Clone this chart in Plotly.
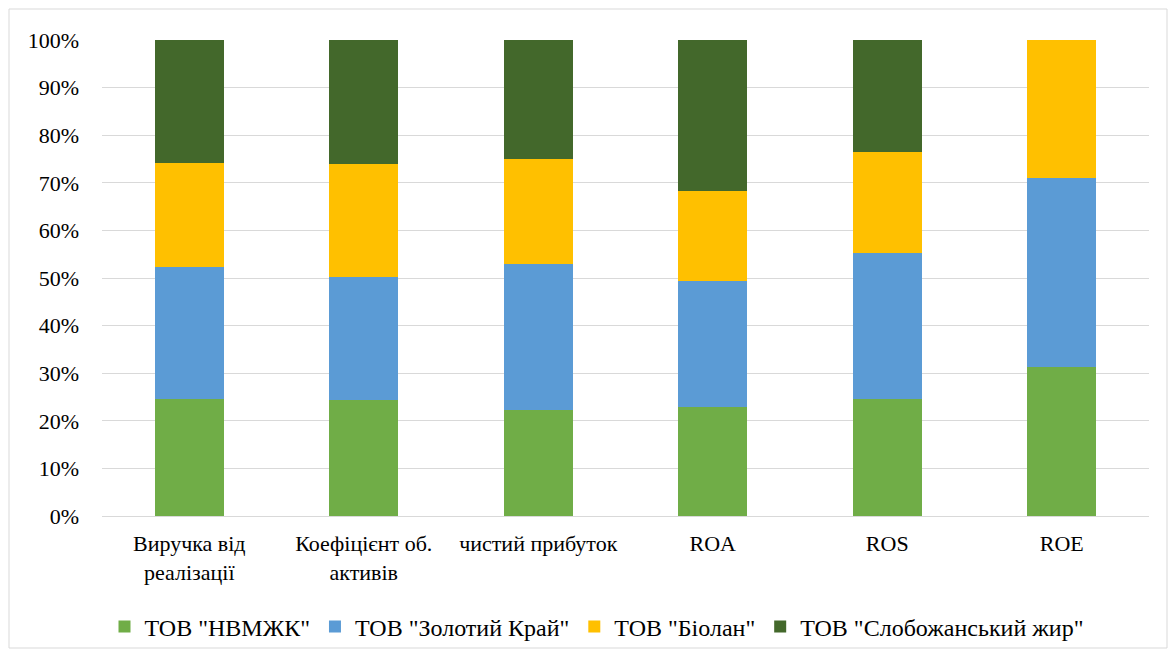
import plotly.graph_objects as go

categories = ["Виручка від<br>реалізації", "Коефіцієнт об.<br>активів", "чистий прибуток", "ROA", "ROS", "ROE"]
nvmzhk = [24.6, 24.3, 22.3, 22.8, 24.6, 31.2]
zolotyi_krai = [27.8, 25.9, 30.7, 26.6, 30.6, 39.9]
biolan = [21.8, 23.8, 21.9, 18.9, 21.2, 28.9]
slobozhanskyi = [25.8, 26.0, 25.1, 31.7, 23.6, 0.0]

series = [
    ('ТОВ "НВМЖК"', nvmzhk, "#70AD47"),
    ('ТОВ "Золотий Край"', zolotyi_krai, "#5B9BD5"),
    ('ТОВ "Біолан"', biolan, "#FFC000"),
    ('ТОВ "Слобожанський жир"', slobozhanskyi, "#43682B"),
]

fig = go.Figure()
for name, vals, color in series:
    fig.add_trace(go.Bar(
        x=categories, y=vals, name=name,
        marker=dict(color=color, line=dict(width=0)),
    ))

W, H = 1176, 653
L, R, T, B = 102, 27, 40, 137
pw, ph = W - L - R, H - T - B

def px_x(p):
    return (p - L) / pw

def px_y(p):
    return (H - B - p) / ph

SERIF = "Liberation Serif"

fig.update_layout(
    width=W, height=H,
    barmode="stack",
    bargap=0.605,
    margin=dict(l=L, r=R, t=T, b=B, autoexpand=False),
    paper_bgcolor="white",
    plot_bgcolor="white",
    font=dict(family=SERIF, size=22, color="#000000"),
    showlegend=True,
    legend=dict(
        orientation="h",
        x=px_x(597), xanchor="center",
        y=px_y(627), yanchor="middle",
        font=dict(family=SERIF, size=24, color="#000000"),
        bgcolor="rgba(0,0,0,0)",
        itemwidth=30,
        traceorder="normal",
    ),
    shapes=[dict(
        type="rect", xref="paper", yref="paper",
        x0=px_x(9), x1=px_x(1167), y0=px_y(648), y1=px_y(9),
        line=dict(color="#D9D9D9", width=1), fillcolor="rgba(0,0,0,0)", layer="below",
    )],
)

fig.update_yaxes(
    range=[0, 100],
    tickvals=[0, 10, 20, 30, 40, 50, 60, 70, 80, 90, 100],
    ticktext=["0%", "10%", "20%", "30%", "40%", "50%", "60%", "70%", "80%", "90%", "100%"],
    showgrid=True, gridcolor="#D9D9D9", gridwidth=1,
    zeroline=True, zerolinecolor="#D9D9D9", zerolinewidth=1,
    showline=False,
    ticks="", ticklabelstandoff=22,
    tickfont=dict(family=SERIF, size=22, color="#000000"),
)
fig.update_xaxes(
    showline=False, ticks="", showgrid=False,
    tickfont=dict(family=SERIF, size=22, color="#000000"),
    ticklabelstandoff=12,
)

fig.write_html("out.html")
